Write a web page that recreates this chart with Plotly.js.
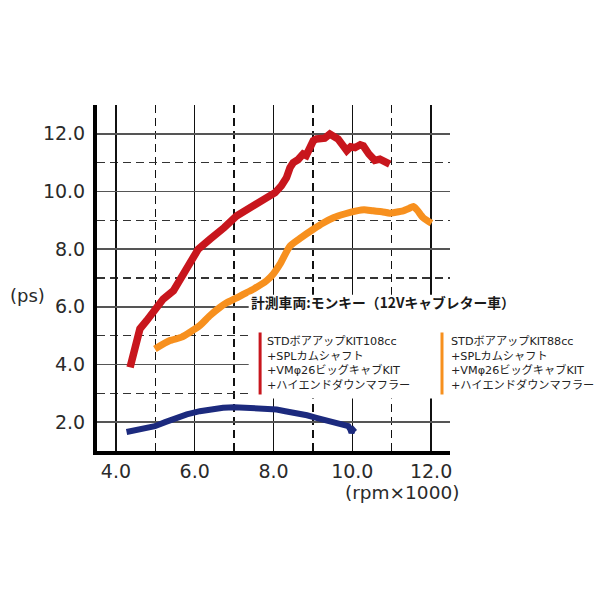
<!DOCTYPE html>
<html>
<head>
<meta charset="utf-8">
<script src="https://cdn.plot.ly/plotly-3.0.1.min.js"></script>
<style>html,body{margin:0;padding:0;background:#fff;}#chart{width:600px;height:600px;}</style>
</head>
<body>
<div id="chart"></div>
<script>
// ---- data ----
var redRpm = [4.36, 4.48, 4.61, 4.78, 4.99, 5.2, 5.46, 5.67, 5.88, 6.09, 6.39, 6.64, 6.75, 7.06, 7.25, 7.44, 7.6, 7.74, 8.04, 8.2, 8.33, 8.42, 8.5, 8.62, 8.75, 8.83, 9.01, 9.09, 9.18, 9.3, 9.43, 9.55, 9.64, 9.76, 9.86, 9.96, 10.07, 10.2, 10.28, 10.42, 10.49, 10.57, 10.7, 10.82, 10.95];
var redPs  = [3.9, 4.6, 5.24, 5.52, 5.87, 6.27, 6.56, 7.02, 7.48, 8.0, 8.35, 8.58, 8.75, 9.15, 9.3, 9.44, 9.55, 9.73, 9.96, 10.2, 10.48, 10.83, 11.0, 11.1, 11.3, 11.25, 11.76, 11.82, 11.82, 11.85, 11.99, 11.9, 11.82, 11.6, 11.42, 11.55, 11.52, 11.62, 11.58, 11.3, 11.18, 11.08, 11.12, 11.0, 10.95];

var orangeRpm = [4.99, 5.37, 5.67, 5.88, 6.13, 6.39, 6.64, 6.81, 7.05, 7.23, 7.5, 7.82, 8.0, 8.16, 8.42, 8.7, 9.01, 9.25, 9.52, 9.8, 10.11, 10.3, 10.53, 10.75, 10.95, 11.1, 11.29, 11.45, 11.55, 11.65, 11.8, 12.01];
var orangePs  = [4.54, 4.83, 4.95, 5.12, 5.35, 5.7, 5.98, 6.14, 6.3, 6.43, 6.62, 6.9, 7.15, 7.47, 8.11, 8.4, 8.69, 8.9, 9.09, 9.22, 9.33, 9.37, 9.33, 9.3, 9.25, 9.28, 9.33, 9.42, 9.48, 9.35, 9.09, 8.9];

var blueRpm = [4.27, 4.6, 4.99, 5.25, 5.54, 5.8, 6.13, 6.4, 6.72, 7.0, 7.15, 7.35, 7.57, 7.8, 8.08, 8.3, 8.59, 8.85, 9.09, 9.35, 9.6, 9.75, 9.9, 9.95, 9.98, 10.02, 10.07];
var bluePs  = [1.66, 1.75, 1.86, 2.0, 2.15, 2.27, 2.38, 2.45, 2.5, 2.52, 2.51, 2.5, 2.52, 2.48, 2.44, 2.38, 2.32, 2.24, 2.15, 2.06, 1.97, 1.92, 1.86, 1.75, 1.63, 1.75, 1.81];

var xTickVals = [4, 6, 8, 10, 12];
var xTickText = ["4.0", "6.0", "8.0", "10.0", "12.0"];
var yTickVals = [2, 4, 6, 8, 10, 12];
var yTickText = ["2.0", "4.0", "6.0", "8.0", "10.0", "12.0"];

var yLabel = "(ps)";
var xLabel = "(rpm×1000)";
var vehicleNote = "計測車両:モンキー（12Vキャブレター車）";
var redLegend = ["STDボアアップKIT108cc", "+SPLカムシャフト", "+VMφ26ビッグキャブKIT", "+ハイエンドダウンマフラー"];
var orangeLegend = ["STDボアアップKIT88cc", "+SPLカムシャフト", "+VMφ26ビッグキャブKIT", "+ハイエンドダウンマフラー"];

var RED = "#c8161d", ORANGE = "#f7901e", NAVY = "#1c2a7e";

var traces = [
  {x: blueRpm, y: bluePs, mode: "lines", line: {color: NAVY, width: 6}, hoverinfo: "skip"},
  {x: orangeRpm, y: orangePs, mode: "lines", line: {color: ORANGE, width: 7, shape: "spline", smoothing: 0.6}, hoverinfo: "skip"},
  {x: redRpm, y: redPs, mode: "lines", line: {color: RED, width: 7.5}, hoverinfo: "skip"}
];

var tickFont = {family: "DejaVu Sans", size: 19, color: "#2a2a2a"};
var jp = "Noto Sans CJK JP";
var legFont = {family: "DejaVu Sans, Noto Sans CJK JP", size: 11.2, color: "#222"};

var layout = {
  width: 600, height: 600,
  margin: {l: 97, r: 150, t: 105, b: 149},
  paper_bgcolor: "#fff", plot_bgcolor: "#fff",
  showlegend: false,
  xaxis: {
    range: [3.52, 12.48], tickvals: xTickVals, ticktext: xTickText,
    showgrid: true, gridcolor: "#111", gridwidth: 1.5,
    minor: {tick0: 5, dtick: 2, showgrid: true, gridcolor: "#111", gridwidth: 1.3, griddash: "8px,5px", ticks: ""},
    showline: true, linecolor: "#000", linewidth: 4, zeroline: false, ticks: "",
    tickfont: tickFont, fixedrange: true
  },
  yaxis: {
    range: [1.0, 13.0], tickvals: yTickVals, ticktext: yTickText,
    showgrid: true, gridcolor: "#555", gridwidth: 1.6,
    minor: {tick0: 3, dtick: 2, showgrid: true, gridcolor: "#333", gridwidth: 1.3, griddash: "8px,5px", ticks: ""},
    showline: true, linecolor: "#000", linewidth: 4, zeroline: false, ticks: "",
    tickfont: tickFont, ticklabelstandoff: 4, fixedrange: true
  },
  shapes: [
    {type: "rect", layer: "above", xref: "x", yref: "y", x0: 7.37, x1: 12.6, y0: 2.82, y1: 6.42,
     fillcolor: "#fff", line: {width: 0}},
    {type: "line", layer: "above", xref: "x", yref: "y", x0: 7.66, x1: 7.66, y0: 2.96, y1: 5.11,
     line: {color: RED, width: 3}},
    {type: "line", layer: "above", xref: "paper", yref: "y", x0: (442 - 97) / 353, x1: (442 - 97) / 353, y0: 2.96, y1: 5.11,
     line: {color: ORANGE, width: 3}}
  ],
  annotations: [
    {xref: "paper", yref: "paper", x: (8 - 97) / 353, y: (451 - 295) / 346, xanchor: "left", yanchor: "middle",
     text: yLabel, showarrow: false, font: {family: "DejaVu Sans", size: 18, color: "#2a2a2a"}},
    {xref: "paper", yref: "paper", x: (461 - 97) / 353, y: (451 - 492) / 346, xanchor: "right", yanchor: "middle",
     text: xLabel, showarrow: false, font: {family: "DejaVu Sans", size: 18.5, color: "#2a2a2a"}},
    {xref: "x", yref: "y", x: 7.38, y: 6.18, xanchor: "left", yanchor: "middle",
     text: "<b>" + vehicleNote + "</b>", showarrow: false, font: {family: jp, size: 13.8, color: "#1a1a1a"}},
    {xref: "x", yref: "y", x: 7.78, y: 4.03, xanchor: "left", yanchor: "middle", align: "left",
     text: redLegend.join("<br>"), showarrow: false, font: legFont},
    {xref: "paper", yref: "y", x: (449 - 97) / 353, y: 4.03, xanchor: "left", yanchor: "middle", align: "left",
     text: orangeLegend.join("<br>"), showarrow: false, font: legFont}
  ]
};

Plotly.newPlot("chart", traces, layout, {displayModeBar: false, staticPlot: true});
</script>
</body>
</html>
